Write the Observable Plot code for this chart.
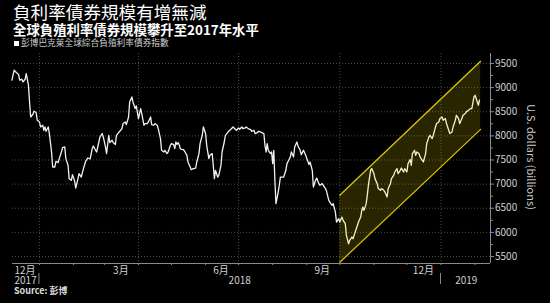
<!DOCTYPE html>
<html>
<head>
<meta charset="utf-8">
<script src="https://cdn.jsdelivr.net/npm/d3@7"></script>
<script src="https://cdn.jsdelivr.net/npm/@observablehq/plot@0.6"></script>
<style>
  html, body { margin: 0; padding: 0; background: #000; }
  body { width: 550px; height: 303px; position: relative; overflow: hidden;
         font-family: "Noto Sans CJK TC", "Noto Sans", sans-serif; }
  #chart { position: absolute; left: 0; top: 0; }
  .t { position: absolute; white-space: nowrap; line-height: 1; }
  #title { left: 13px; top: 3px; font-size: 17.6px; color: #fff; }
  #subtitle { left: 13px; top: 22.5px; font-size: 13.4px; color: #fff; font-weight: bold; }
  #legend { left: 14px; top: 39px; font-size: 8.7px; color: #ccc; }
  #legend .sq { display: inline-block; width: 5px; height: 5px; background: #fff; margin-right: 2px; vertical-align: 0px; }
  #source { left: 14px; top: 285.5px; font-size: 9px; color: #ddd; font-weight: bold; }
</style>
</head>
<body>
<div id="chart"></div>
<div class="t" id="title">負利率債券規模有增無減</div>
<div class="t" id="subtitle">全球負殖利率債券規模攀升至2017年水平</div>
<div class="t" id="legend"><span class="sq"></span>彭博巴克萊全球綜合負殖利率債券指數</div>
<div class="t" id="source">Source: 彭博</div>
<script>
// ---- data (U.S. dollars, billions) ----
const dates = [
  // 2017-12
  "2017-12-07","2017-12-09","2017-12-11","2017-12-13","2017-12-14","2017-12-16","2017-12-17","2017-12-19","2017-12-20","2017-12-22","2017-12-23","2017-12-24","2017-12-26","2017-12-27","2017-12-29","2017-12-30",
  // 2018-01
  "2018-01-01","2018-01-02","2018-01-04","2018-01-05","2018-01-06","2018-01-07","2018-01-09","2018-01-10","2018-01-12","2018-01-13","2018-01-15","2018-01-16","2018-01-18","2018-01-19","2018-01-21","2018-01-22","2018-01-24","2018-01-25","2018-01-27","2018-01-28","2018-01-30","2018-01-31",
  // 2018-02
  "2018-02-02","2018-02-03","2018-02-05","2018-02-06","2018-02-08","2018-02-10","2018-02-12","2018-02-14","2018-02-16","2018-02-18","2018-02-19","2018-02-21","2018-02-22","2018-02-24","2018-02-25","2018-02-27","2018-02-28",
  // 2018-03
  "2018-03-02","2018-03-03","2018-03-05","2018-03-06","2018-03-08","2018-03-09","2018-03-11","2018-03-12","2018-03-14","2018-03-15","2018-03-17","2018-03-18","2018-03-20","2018-03-21","2018-03-23","2018-03-24","2018-03-26","2018-03-27","2018-03-29","2018-03-30",
  // 2018-04
  "2018-04-01","2018-04-03","2018-04-04","2018-04-06","2018-04-07","2018-04-09","2018-04-10","2018-04-12","2018-04-13","2018-04-15","2018-04-16","2018-04-18","2018-04-19","2018-04-21","2018-04-22","2018-04-24","2018-04-25","2018-04-27","2018-04-28","2018-04-30",
  // 2018-05
  "2018-05-01","2018-05-03","2018-05-04","2018-05-05","2018-05-06","2018-05-07","2018-05-08","2018-05-09","2018-05-10","2018-05-12","2018-05-13","2018-05-15","2018-05-16","2018-05-18","2018-05-19","2018-05-21","2018-05-23","2018-05-24","2018-05-26","2018-05-27","2018-05-29","2018-05-30",
  // 2018-06
  "2018-06-01","2018-06-02","2018-06-04","2018-06-05","2018-06-07","2018-06-08","2018-06-09","2018-06-10","2018-06-12","2018-06-13","2018-06-15","2018-06-16","2018-06-18","2018-06-19","2018-06-21","2018-06-22","2018-06-24","2018-06-26","2018-06-28","2018-06-29",
  // 2018-07
  "2018-07-01","2018-07-02","2018-07-04","2018-07-05","2018-07-07","2018-07-08","2018-07-10","2018-07-12","2018-07-13","2018-07-15","2018-07-16","2018-07-18","2018-07-19","2018-07-21","2018-07-22","2018-07-24","2018-07-25","2018-07-26","2018-07-27","2018-07-28","2018-07-30","2018-07-31",
  // 2018-08
  "2018-08-01","2018-08-02","2018-08-03","2018-08-04","2018-08-06","2018-08-07","2018-08-08","2018-08-10","2018-08-11","2018-08-13","2018-08-14","2018-08-16","2018-08-17","2018-08-18","2018-08-20","2018-08-21","2018-08-23","2018-08-24","2018-08-26","2018-08-27","2018-08-29","2018-08-31",
  // 2018-09
  "2018-09-01","2018-09-03","2018-09-04","2018-09-06","2018-09-07","2018-09-09","2018-09-10","2018-09-12","2018-09-13","2018-09-15","2018-09-16","2018-09-18","2018-09-19","2018-09-21","2018-09-22","2018-09-24","2018-09-25","2018-09-27","2018-09-28","2018-09-30",
  // 2018-10
  "2018-10-01","2018-10-03","2018-10-04","2018-10-06","2018-10-07","2018-10-09","2018-10-10","2018-10-12","2018-10-13","2018-10-15","2018-10-16","2018-10-18","2018-10-20","2018-10-21","2018-10-22","2018-10-23","2018-10-25","2018-10-26","2018-10-27","2018-10-29","2018-10-30",
  // 2018-11
  "2018-11-01","2018-11-02","2018-11-04","2018-11-05","2018-11-07","2018-11-08","2018-11-10","2018-11-11","2018-11-13","2018-11-14","2018-11-16","2018-11-17","2018-11-19","2018-11-20","2018-11-22","2018-11-23","2018-11-25","2018-11-26","2018-11-28","2018-11-29",
  // 2018-12
  "2018-12-01","2018-12-02","2018-12-04","2018-12-05","2018-12-06","2018-12-08","2018-12-09","2018-12-10","2018-12-12","2018-12-13","2018-12-15","2018-12-16","2018-12-18","2018-12-19","2018-12-21","2018-12-22","2018-12-24","2018-12-25","2018-12-27","2018-12-28","2018-12-30","2018-12-31",
  // 2019-01
  "2019-01-02","2019-01-03","2019-01-05","2019-01-06","2019-01-08","2019-01-09","2019-01-11","2019-01-12","2019-01-14","2019-01-15","2019-01-17","2019-01-18","2019-01-20","2019-01-21","2019-01-23","2019-01-24","2019-01-26","2019-01-28","2019-01-29","2019-01-31",
  // 2019-02
  "2019-02-01","2019-02-03","2019-02-04","2019-02-05"
];
const values = [
  // 2017-12
  9154,9361,9313,9272,9154,9174,9118,9174,9292,9050,8703,8392,8442,8510,8483,8324,
  // 2018-01
  8288,8185,8220,8116,8185,8095,8185,8048,7666,7355,7355,7473,7446,7529,7666,7757,7770,7529,7390,7114,7079,7197,
  // 2018-02
  7058,6919,7114,7218,7147,7321,7473,7542,7520,7736,7790,7701,7666,7873,7977,8048,7977,
  // 2018-03
  7770,7633,8012,7861,7909,7861,7820,8012,8068,8095,8151,8255,8288,8234,8392,8703,8807,8703,8566,8620,
  // 2018-04
  8359,8566,8462,8220,8255,8255,8288,8392,8234,8220,8255,8220,8151,7944,7701,7666,7701,7633,7666,7805,
  // 2018-05
  7840,7820,7736,7873,7820,7861,7820,7736,7722,7715,7680,7597,7459,7355,7300,7321,7334,7459,7633,7840,8012,8185,
  // 2018-06
  8048,7805,7529,7597,7633,7390,7114,7286,7147,7182,7390,7666,7873,8012,8068,8095,8137,8185,8137,8116,
  // 2018-07
  8164,8137,8185,8151,8164,8185,8145,8130,8095,8116,8048,8068,8095,8081,8068,8048,7805,7666,7840,7701,7633,7666,
  // 2018-08
  7425,7701,7079,6595,6836,6975,7147,7147,7147,7286,7425,7515,7563,7666,7563,7770,7873,7790,7701,7612,7701,7597,
  // 2018-09
  7529,7405,7459,7286,6940,7079,7126,7010,6975,7010,6975,6907,6850,6664,6629,6560,6595,6421,6214,6283,
  // 2018-10
  6214,6317,6248,6180,5937,5765,5834,5903,5869,6006,6076,6214,6317,6456,6525,6456,6595,6768,6975,7286,7321,
  // 2018-11
  7218,7114,7010,6907,6871,6907,6871,6836,6733,6907,7010,7114,7182,7251,7321,7218,7286,7334,7251,7321,
  // 2018-12
  7251,7420,7510,7390,7633,7701,7597,7666,7633,7563,7494,7459,7633,7840,7977,8012,7944,8012,8185,8255,8288,8359,
  // 2019-01
  8392,8324,8359,8255,8116,8048,8081,8185,8324,8427,8359,8255,8359,8427,8462,8497,8531,8566,8566,8807,
  // 2019-02
  8842,8703,8635,8739
];

// trend channel
const channelDates = ["2018-10-01", "2019-02-06"];
const channelUpper = [6770, 9545];
const channelLower = [5380, 8135];

// axes
const xDomain = ["2017-12-07T12:00Z", "2019-02-15T00:00Z"];
const yDomain = [5355, 9707];
const yTicks = [5500, 6000, 6500, 7000, 7500, 8000, 8500, 9000, 9500];
const yMinorTicks = [5750, 6250, 6750, 7250, 7750, 8250, 8750, 9250];
const yGrid = [5500, 6000, 6500, 7000, 7500, 8000, 8500, 9000, 9500];
const monthStarts = ["2018-01-01","2018-02-01","2018-03-01","2018-04-01","2018-05-01","2018-06-01","2018-07-01","2018-08-01","2018-09-01","2018-10-01","2018-11-01","2018-12-01","2019-01-01","2019-02-01"];
const quarterStarts = ["2018-01-01","2018-04-01","2018-07-01","2018-10-01","2019-01-01"];
const monthLabelDates = ["2018-03-16","2018-06-15","2018-09-15","2018-12-16"];
const monthLabels = ["3月","6月","9月","12月"];
const firstMonthLabel = "12月";
const yearStarts = ["2018-01-01","2019-01-01"];
const yearLabelDates = ["2018-07-02","2019-01-24"];
const yearLabels = ["2018","2019"];
const firstYearLabel = "2017";
const yLabel = "U.S. dollars (billions)";

const D = s => new Date(s.length === 10 ? s + "T00:00Z" : s);
const series = dates.map((d, i) => ({date: D(d), value: values[i]}));
const channel = channelDates.map((d, i) => ({date: D(d), upper: channelUpper[i], lower: channelLower[i]}));
const x0 = D(xDomain[0]), x1 = D(xDomain[1]);

const gridStyle = {stroke: "#4a4a4a", strokeDasharray: "1,2", strokeWidth: 1};
const font = "'Noto Sans CJK TC', 'Noto Sans', sans-serif";

const chart = Plot.plot({
  width: 550, height: 303,
  marginLeft: 12, marginRight: 60, marginTop: 53, marginBottom: 40,
  style: {background: "transparent", color: "#ccc", fontFamily: font, overflow: "visible"},
  x: {type: "utc", domain: [x0, x1]},
  y: {domain: yDomain},
  marks: [
    Plot.ruleY(yGrid, {...gridStyle}),
    Plot.ruleX(quarterStarts.map(D), {...gridStyle}),
    Plot.lineY(series, {x: "date", y: "value", stroke: "#f2f2f2", strokeWidth: 1.3, curve: "linear"}),
    Plot.areaY(channel, {x: "date", y1: "lower", y2: "upper", fill: "rgb(255,232,0)", fillOpacity: 0.16}),
    Plot.lineY(channel, {x: "date", y: "upper", stroke: "#d8c400", strokeWidth: 1.3}),
    Plot.lineY(channel, {x: "date", y: "lower", stroke: "#d8c400", strokeWidth: 1.3}),
    // axis lines
    Plot.ruleY([yDomain[0]], {stroke: "#8a8a8a", strokeWidth: 1}),
    Plot.ruleX([x1], {stroke: "#8a8a8a", strokeWidth: 1}),
    // y axis (right)
    Plot.axisY(yMinorTicks, {anchor: "right", tickSize: 2, tickFormat: () => "", stroke: "#8a8a8a", label: null}),
    Plot.axisY(yTicks, {anchor: "right", tickSize: 3, tickPadding: 1.5, fontSize: 10, fill: "#d0d0d0", stroke: "#8a8a8a", label: null, tickFormat: d => String(d)}),
    // x axis ticks & labels
    Plot.axisX(monthStarts.map(D), {tickSize: 2, tickFormat: () => "", stroke: "#8a8a8a", label: null}),
    Plot.axisX(monthLabelDates.map(D), {tickSize: 0, tickPadding: 3, fontSize: 10, fill: "#d0d0d0", label: null, tickFormat: (d, i) => monthLabels[i]}),
    Plot.axisX([x0], {tickSize: 0, tickPadding: 3, fontSize: 10, fill: "#d0d0d0", label: null, textAnchor: "start", dx: 2, tickFormat: () => firstMonthLabel}),
    Plot.axisX(yearLabelDates.map(D), {tickSize: 0, tickPadding: 13, fontSize: 10, fill: "#d0d0d0", label: null, tickFormat: (d, i) => yearLabels[i]}),
    Plot.axisX([x0], {tickSize: 0, tickPadding: 13, fontSize: 10, fill: "#d0d0d0", label: null, textAnchor: "start", dx: 2, tickFormat: () => firstYearLabel})
  ]
});
document.getElementById("chart").appendChild(chart);

// year separators and rotated y-axis label, positioned via the chart's scales
const sx = chart.scale("x");
const svg = d3.select(chart);
yearStarts.forEach(d => {
  const px = sx.apply(D(d));
  svg.append("line").attr("x1", px).attr("x2", px).attr("y1", 273).attr("y2", 284)
     .attr("stroke", "#8a8a8a").attr("stroke-width", 1);
});
svg.append("text")
   .attr("transform", "translate(527,157) rotate(90)")
   .attr("text-anchor", "middle")
   .attr("fill", "#c8c8c8")
   .attr("font-size", 11)
   .attr("font-family", font)
   .text(yLabel);
</script>
</body>
</html>
